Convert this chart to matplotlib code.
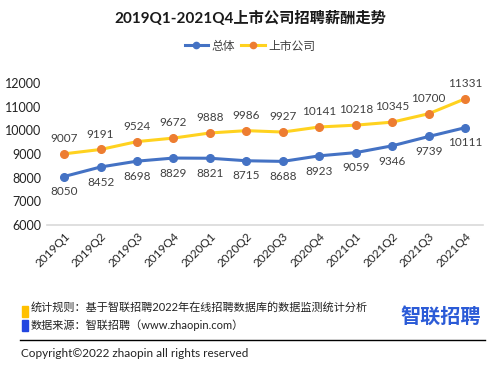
import matplotlib.pyplot as plt
from matplotlib.patches import Rectangle
from matplotlib.lines import Line2D

plt.rcParams["font.family"] = ["Lato", "Noto Sans CJK SC", "DejaVu Sans"]

quarters = ["2019Q1", "2019Q2", "2019Q3", "2019Q4", "2020Q1", "2020Q2",
            "2020Q3", "2020Q4", "2021Q1", "2021Q2", "2021Q3", "2021Q4"]
overall = [8050, 8452, 8698, 8829, 8821, 8715, 8688, 8923, 9059, 9346, 9739, 10111]
listed = [9007, 9191, 9524, 9672, 9888, 9986, 9927, 10141, 10218, 10345, 10700, 11331]
yticks = [6000, 7000, 8000, 9000, 10000, 11000, 12000]

blue = "#4472C4"
yellow = "#FFD21F"
orange = "#ED7D31"
label_color = "#404040"

fig = plt.figure(figsize=(5, 3.77), dpi=100)
ax = fig.add_axes([0.094, 0.403, 0.872, 0.377])

x = list(range(len(quarters)))
ax.plot(x, overall, color=blue, lw=2.2, marker="o", ms=5.5, mfc=blue, mec=blue)
ax.plot(x, listed, color=yellow, lw=2.2, marker="o", ms=5.5, mfc=orange, mec=orange)

for xi, v in zip(x, overall):
    ax.annotate(str(v), (xi, v), xytext=(0, -7), textcoords="offset points",
                ha="center", va="top", fontsize=8.5, color=label_color)
for xi, v in zip(x, listed):
    ax.annotate(str(v), (xi, v), xytext=(0, 7), textcoords="offset points",
                ha="center", va="bottom", fontsize=8.5, color=label_color)

ax.set_xlim(-0.47, 11.49)
ax.set_ylim(6000, 12000)
ax.set_yticks(yticks)
ax.set_yticklabels([str(t) for t in yticks], fontsize=9, color="#222222")
ax.set_xticks(x)
ax.set_xticklabels(quarters, rotation=45, ha="right", rotation_mode="anchor",
                   fontsize=8.5, color="#222222")
ax.tick_params(length=0, pad=4)
for s in ["top", "right", "left"]:
    ax.spines[s].set_visible(False)
ax.spines["bottom"].set_color("#D9D9D9")
ax.spines["bottom"].set_linewidth(1.2)

fig.text(0.5, 0.952, "2019Q1-2021Q4上市公司招聘薪酬走势", ha="center", va="center",
         fontsize=11, fontweight="bold", color="#1a1a1a")

handles = [
    Line2D([], [], color=blue, lw=2.2, marker="o", ms=4.5, mfc=blue, mec=blue),
    Line2D([], [], color=yellow, lw=2.2, marker="o", ms=4.5, mfc=orange, mec=orange),
]
fig.legend(handles, ["总体", "上市公司"], loc="center", bbox_to_anchor=(0.5, 0.878),
           ncol=2, frameon=False, fontsize=8.5, handlelength=2.0,
           columnspacing=0.5, handletextpad=0.3, labelcolor="#404040")

fig.patches.append(Rectangle((0.044, 0.158), 0.012, 0.03, transform=fig.transFigure,
                             color="#FFC000", figure=fig))
fig.patches.append(Rectangle((0.044, 0.121), 0.012, 0.03, transform=fig.transFigure,
                             color="#2346E0", figure=fig))
fig.text(0.062, 0.186, "统计规则：基于智联招聘2022年在线招聘数据库的数据监测统计分析",
         ha="left", va="center", fontsize=8, color="#222222")
fig.text(0.062, 0.138, "数据来源：智联招聘（www.zhaopin.com）",
         ha="left", va="center", fontsize=8, color="#222222")
fig.text(0.882, 0.16, "智联招聘", ha="center", va="center", fontsize=14.5,
         fontweight="bold", color="#2B5BD7")

fig.lines.append(Line2D([0.04, 0.97], [0.098, 0.098], transform=fig.transFigure,
                        color="black", lw=1))
fig.text(0.042, 0.063, "Copyright©2022 zhaopin all rights reserved",
         ha="left", va="center", fontsize=8.5, color="#222222")

fig.savefig("out.png", dpi=100, facecolor="white")
